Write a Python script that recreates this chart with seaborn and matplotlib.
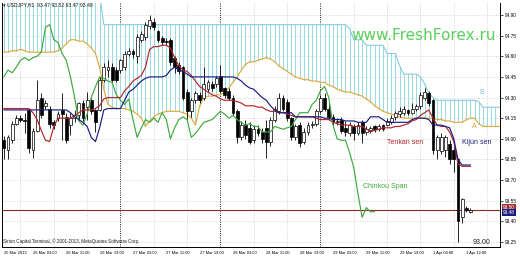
import matplotlib
matplotlib.use("Agg")
import numpy as np
import pandas as pd
import matplotlib.pyplot as plt
import seaborn as sns

# ---------------- data (USDJPY H1) ----------------
bar_open = [93.99, 93.92, 93.99, 94.11, 94.15, 94.14, 94.21, 93.92, 94.06, 94.30,
            94.24, 94.22, 94.12, 94.15, 94.21, 94.16, 94.10, 94.15, 94.17, 94.26,
            94.23, 94.28, 94.21, 94.21, 94.43, 94.50, 94.52, 94.50, 94.50, 94.52,
            94.62, 94.64, 94.60, 94.72, 94.74, 94.82, 94.85, 94.78, 94.73, 94.71,
            94.72, 94.59, 94.54, 94.52, 94.34, 94.20, 94.28, 94.32, 94.30, 94.36,
            94.40, 94.40, 94.46, 94.37, 94.35, 94.30, 94.20, 94.01, 94.10, 94.08,
            93.99, 94.07, 94.05, 94.08, 93.98, 94.14, 94.20, 94.30, 94.27, 94.15,
            94.01, 94.10, 93.98, 94.05, 94.10, 94.11, 94.20, 94.30, 94.22, 94.16,
            94.12, 94.14, 94.08, 94.04, 94.09, 94.04, 94.12, 94.05, 94.06, 94.09,
            94.07, 94.10, 94.10, 94.12, 94.16, 94.18, 94.19, 94.21, 94.19, 94.22,
            94.24, 94.30, 94.33, 94.28, 93.92, 93.91, 93.92, 93.96, 93.92, 93.85,
            93.43, 93.50, 93.47]
bar_high = [94.02, 94.03, 94.13, 94.17, 94.17, 94.19, 94.22, 94.08, 94.43, 94.33,
            94.28, 94.24, 94.14, 94.20, 94.33, 94.19, 94.19, 94.21, 94.27, 94.28,
            94.34, 94.30, 94.22, 94.45, 94.55, 94.57, 94.55, 94.52, 94.58, 94.64,
            94.66, 94.65, 94.76, 94.78, 94.85, 94.90, 94.88, 94.79, 94.75, 94.73,
            94.73, 94.60, 94.56, 94.53, 94.36, 94.30, 94.35, 94.34, 94.52, 94.43,
            94.42, 94.46, 94.54, 94.38, 94.37, 94.32, 94.22, 94.13, 94.14, 94.12,
            94.10, 94.10, 94.08, 94.14, 94.16, 94.24, 94.33, 94.32, 94.29, 94.16,
            94.11, 94.12, 94.08, 94.12, 94.13, 94.22, 94.32, 94.33, 94.26, 94.18,
            94.15, 94.16, 94.13, 94.12, 94.11, 94.12, 94.14, 94.09, 94.09, 94.10,
            94.11, 94.11, 94.15, 94.17, 94.20, 94.23, 94.24, 94.22, 94.26, 94.25,
            94.34, 94.37, 94.35, 94.29, 94.03, 94.04, 94.03, 93.99, 93.94, 93.86,
            93.57, 93.51, 93.50]
bar_low = [93.85, 93.85, 93.97, 94.10, 94.12, 94.04, 93.90, 93.86, 94.05, 94.15,
           94.22, 94.08, 94.07, 94.13, 93.99, 93.97, 94.03, 94.12, 94.14, 94.13,
           94.14, 94.18, 94.05, 94.20, 94.41, 94.45, 94.41, 94.41, 94.48, 94.50,
           94.60, 94.59, 94.55, 94.70, 94.72, 94.80, 94.79, 94.70, 94.68, 94.68,
           94.54, 94.48, 94.47, 94.28, 94.14, 94.16, 94.26, 94.26, 94.28, 94.34,
           94.35, 94.38, 94.33, 94.30, 94.28, 94.17, 93.97, 93.99, 94.00, 93.96,
           93.97, 94.02, 93.97, 93.86, 93.95, 94.12, 94.18, 94.20, 94.13, 93.99,
           93.99, 93.94, 93.96, 94.03, 94.08, 94.09, 94.19, 94.20, 94.14, 94.10,
           94.10, 94.04, 94.02, 94.02, 93.99, 94.03, 93.97, 94.03, 94.04, 94.05,
           94.06, 94.06, 94.09, 94.11, 94.14, 94.16, 94.17, 94.17, 94.18, 94.20,
           94.22, 94.28, 94.24, 93.89, 93.85, 93.89, 93.87, 93.82, 93.76, 93.25,
           93.39, 93.47, 93.46]
bar_close = [93.93, 94.01, 94.11, 94.15, 94.14, 94.13, 93.93, 94.06, 94.28, 94.17,
             94.26, 94.11, 94.10, 94.18, 94.18, 93.99, 94.15, 94.17, 94.26, 94.15,
             94.28, 94.20, 94.12, 94.43, 94.52, 94.52, 94.43, 94.43, 94.57, 94.62,
             94.64, 94.62, 94.74, 94.76, 94.83, 94.86, 94.81, 94.72, 94.70, 94.70,
             94.56, 94.52, 94.49, 94.30, 94.20, 94.28, 94.33, 94.28, 94.40, 94.41,
             94.37, 94.44, 94.35, 94.32, 94.30, 94.19, 94.01, 94.10, 94.03, 93.98,
             94.07, 94.04, 94.00, 93.98, 94.14, 94.22, 94.30, 94.22, 94.15, 94.01,
             94.09, 93.97, 94.05, 94.10, 94.11, 94.20, 94.30, 94.22, 94.16, 94.12,
             94.13, 94.06, 94.05, 94.10, 94.04, 94.10, 94.04, 94.07, 94.08, 94.07,
             94.09, 94.07, 94.13, 94.15, 94.19, 94.20, 94.22, 94.19, 94.22, 94.24,
             94.32, 94.34, 94.26, 93.92, 94.01, 94.01, 94.01, 93.85, 93.85, 93.40,
             93.56, 93.48, 93.48]

tenkan_sen = [94.22, 94.22, 94.22, 94.22, 94.22, 94.22, 94.22, 94.19, 94.14, 94.06,
              93.99, 93.98, 94.09, 94.15, 94.15, 94.15, 94.15, 94.17, 94.19, 94.21,
              94.21, 94.21, 94.22, 94.24, 94.29, 94.30, 94.30, 94.30, 94.30, 94.35,
              94.38, 94.42, 94.44, 94.46, 94.52, 94.65, 94.67, 94.67, 94.68, 94.68,
              94.66, 94.59, 94.53, 94.50, 94.49, 94.46, 94.42, 94.38, 94.36, 94.34,
              94.32, 94.31, 94.29, 94.28, 94.28, 94.28, 94.27, 94.26, 94.24, 94.24,
              94.24, 94.23, 94.23, 94.21, 94.20, 94.20, 94.19, 94.19, 94.18, 94.17,
              94.16, 94.16, 94.16, 94.16, 94.16, 94.15, 94.14, 94.14, 94.14, 94.12,
              94.11, 94.10, 94.10, 94.10, 94.09, 94.09, 94.09, 94.07, 94.06, 94.06,
              94.07, 94.08, 94.08, 94.08, 94.09, 94.09, 94.10, 94.11, 94.13, 94.14,
              94.17, 94.19, 94.21, 94.15, 94.10, 94.09, 94.09, 94.05, 93.98, 93.82,
              93.80, 93.80, 93.80]
kijun_sen = [94.21, 94.21, 94.21, 94.21, 94.21, 94.21, 94.21, 94.21, 94.21, 94.21,
             94.21, 94.21, 94.21, 94.21, 94.21, 94.21, 94.19, 94.16, 94.14, 94.12,
             94.09, 94.01, 93.98, 94.08, 94.21, 94.22, 94.22, 94.22, 94.22, 94.28,
             94.34, 94.36, 94.39, 94.42, 94.44, 94.45, 94.45, 94.45, 94.45, 94.46,
             94.50, 94.52, 94.50, 94.49, 94.47, 94.45, 94.45, 94.45, 94.45, 94.45,
             94.45, 94.45, 94.45, 94.45, 94.45, 94.45, 94.44, 94.42, 94.39, 94.37,
             94.36, 94.33, 94.30, 94.28, 94.24, 94.21, 94.19, 94.19, 94.19, 94.19,
             94.16, 94.16, 94.16, 94.16, 94.16, 94.16, 94.16, 94.15, 94.15, 94.14,
             94.14, 94.14, 94.13, 94.13, 94.13, 94.12, 94.12, 94.12, 94.16, 94.16,
             94.16, 94.14, 94.12, 94.12, 94.12, 94.12, 94.12, 94.12, 94.14, 94.15,
             94.15, 94.15, 94.14, 94.10, 94.10, 94.10, 94.09, 94.08, 94.00, 93.85,
             93.81, 93.81, 93.81]
senkou_a = [94.63, 94.63, 94.64, 94.64, 94.65, 94.64, 94.63, 94.63, 94.63, 94.63,
            94.63, 94.63, 94.63, 94.64, 94.66, 94.69, 94.72, 94.72, 94.71, 94.71,
            94.69, 94.66, 94.62, 94.52, 94.36, 94.25, 94.23, 94.22, 94.22, 94.22,
            94.21, 94.20, 94.18, 94.15, 94.09, 94.13, 94.16, 94.18, 94.19, 94.20,
            94.20, 94.20, 94.20, 94.19, 94.18, 94.15, 94.10, 94.24, 94.30, 94.31,
            94.31, 94.32, 94.32, 94.34, 94.37, 94.41, 94.45, 94.50, 94.54, 94.56,
            94.56, 94.57, 94.58, 94.59, 94.58, 94.56, 94.53, 94.51, 94.49, 94.47,
            94.45, 94.44, 94.43, 94.43, 94.42, 94.42, 94.41, 94.41, 94.39, 94.38,
            94.36, 94.35, 94.34, 94.34, 94.33, 94.32, 94.31, 94.29, 94.27, 94.24,
            94.22, 94.20, 94.19, 94.18, 94.17, 94.16, 94.15, 94.15, 94.15, 94.15,
            94.15, 94.15, 94.15, 94.15, 94.14, 94.14, 94.13, 94.13, 94.12, 94.12,
            94.12, 94.14, 94.15, 94.15, 94.11, 94.09, 94.09, 94.09, 94.09, 94.09]
senkou_b = [95.05] * 24 + [94.83] * 59 + [
            94.80, 94.72, 94.72, 94.72, 94.68, 94.68, 94.68, 94.68, 94.68, 94.62,
            94.62, 94.62, 94.53, 94.47, 94.47, 94.47, 94.47, 94.45, 94.40, 94.33,
            94.30, 94.28, 94.28, 94.28, 94.28, 94.28, 94.28, 94.28, 94.28, 94.28,
            94.28, 94.27, 94.23, 94.23, 94.23, 94.23, 94.23]
chikou_span = [94.45, 94.50, 94.48, 94.52, 94.57, 94.59, 94.57, 94.59, 94.60, 94.63,
               94.81, 94.83, 94.72, 94.70, 94.62, 94.57, 94.45, 94.30, 94.13, 94.10,
               94.18, 94.30, 94.38, 94.45, 94.44, 94.42, 94.41, 94.32, 94.28, 94.25,
               94.29, 94.14, 94.01, 94.08, 94.14, 94.12, 94.15, 94.12, 94.19, 94.14,
               94.00, 94.08, 94.14, 94.16, 94.14, 94.01, 94.04, 94.08, 94.12, 94.13,
               94.14, 94.17, 94.20, 94.18, 94.15, 94.17, 94.14, 94.12, 94.10, 94.11,
               94.09, 94.09, 94.05, 94.05, 94.05, 94.09, 94.08, 94.07, 94.08, 94.09,
               94.14, 94.19, 94.19, 94.19, 94.25, 94.28, 94.35, 94.38, 94.30, 94.10,
               94.00, 93.99, 93.99, 93.90, 93.79, 93.60, 93.43, 93.50, 93.47, 93.47]

bid_price = 93.48
price_ticks = [93.25, 93.40, 93.55, 93.70, 93.85, 94.00, 94.15, 94.30, 94.45, 94.60, 94.75, 94.90]
time_tick_bars = [0, 7, 15, 23, 31, 39, 47, 55, 63, 71, 79, 87, 95, 103, 111]
time_tick_labels = ["25 Mar 2013", "26 Mar 03:00", "26 Mar 11:00", "26 Mar 19:00",
                    "27 Mar 03:00", "27 Mar 11:00", "27 Mar 19:00", "28 Mar 03:00",
                    "28 Mar 11:00", "28 Mar 19:00", "29 Mar 03:00", "29 Mar 11:00",
                    "29 Mar 19:00", "1 Apr 04:00", "1 Apr 12:00"]
day_separator_bars = [28, 52, 76]

# ---------------- figure ----------------
sns.set_theme(style="white")
plt.rcParams['font.family'] = ['Liberation Sans', 'DejaVu Sans']

W, H = 520, 260
fig = plt.figure(figsize=(5.2, 2.6), dpi=100)
fig.patch.set_facecolor('white')
ax = fig.add_axes([2 / W, 13 / H, 498 / W, 244 / H])
ax.set_facecolor('white')

px_per_bar = 4.1667
x_left = (2 - 3.8) / px_per_bar
x_right = (500 - 3.8) / px_per_bar
ax.set_xlim(x_left, x_right)
ax.set_ylim(93.214, 94.987)

# grid
ax.hlines(price_ticks, x_left, x_right, colors='#c8c8c8', lw=0.5,
          linestyles=(0, (1.5, 2)), zorder=0)
grid_bars = np.arange(4, 120, 8)
for gb in grid_bars:
    if gb in day_separator_bars:
        ax.axvline(gb, color='black', lw=0.6, ls=(0, (1.2, 1.5)), zorder=0.5)
    else:
        ax.axvline(gb, color='#c8c8c8', lw=0.5, ls=(0, (1.5, 2)), zorder=0)

# cloud (kumo) hatch between senkou A and B
cloud_x = np.arange(len(senkou_a))
ax.vlines(cloud_x, np.minimum(senkou_a, senkou_b), np.maximum(senkou_a, senkou_b),
          colors='#9ad9e6', lw=0.72, zorder=1, antialiased=False)


def draw_line(values, color, lw=0.85, z=4):
    df = pd.DataFrame({'bar': np.arange(len(values)), 'price': values})
    sns.lineplot(data=df, x='bar', y='price', color=color, lw=lw, ax=ax,
                 legend=False, zorder=z, estimator=None)


draw_line(senkou_b, '#86cddd', lw=0.8, z=2)
draw_line(senkou_a, '#e2aa3a', lw=0.85, z=2)

# bid line
ax.axhline(bid_price, color='#8b2a2a', lw=0.8, zorder=2.5)

# candles
o = np.array(bar_open); h = np.array(bar_high); l = np.array(bar_low); c = np.array(bar_close)
xs = np.arange(len(o))
ax.vlines(xs, l, h, colors='black', lw=0.6, zorder=3)
up = c >= o
body_low = np.minimum(o, c)
body_h = np.maximum(np.abs(c - o), 0.004)
ax.bar(xs[up], body_h[up], bottom=body_low[up], width=0.7, color='white',
       edgecolor='black', linewidth=0.5, zorder=3.2)
ax.bar(xs[~up], body_h[~up], bottom=body_low[~up], width=0.7, color='black',
       edgecolor='black', linewidth=0.5, zorder=3.2)

draw_line(chikou_span, '#3daa3d', lw=0.85, z=4)
draw_line(tenkan_sen, '#b3262b', lw=0.85, z=4.2)
draw_line(kijun_sen, '#1c1c80', lw=0.85, z=4.3)

ax.set_xlabel('')
ax.set_ylabel('')

# axes / ticks
ax.yaxis.tick_right()
ax.set_yticks(price_ticks)
ax.set_yticklabels([f"{p:.2f}" for p in price_ticks])
ax.tick_params(axis='y', length=2, width=0.5, pad=1.5, labelsize=3.4, colors='black')
ax.set_xticks(time_tick_bars)
ax.set_xticklabels(time_tick_labels)
ax.tick_params(axis='x', length=2, width=0.5, pad=1.2, labelsize=2.9, colors='black')
for lab in ax.get_xticklabels():
    lab.set_ha('left')
for side in ['left', 'right', 'bottom']:
    ax.spines[side].set_visible(True)
    ax.spines[side].set_color('black')
    ax.spines[side].set_linewidth(0.7)
ax.spines['top'].set_visible(False)


def ftext(xp, yp, s, **kw):
    fig.text(xp / W, 1 - yp / H, s, **kw)


ftext(3, 5, "\u25be USDJPY,H1  93.47 93.52 93.47 93.48", fontsize=3.7,
      color='#222222', ha='left', va='center')
ftext(424, 35, "www.FreshForex.ru", fontsize=11, color='#5ccf5c',
      ha='center', va='center', family='DejaVu Sans')
ftext(462, 142, "Kijun sen", fontsize=5, color='#1c1c80', ha='left', va='center')
ftext(387, 142, "Tenkan sen", fontsize=5, color='#b3262b', ha='left', va='center')
ftext(363, 187, "Chinkou Span", fontsize=5, color='#3daa3d', ha='left', va='center')
ftext(479, 92, "B", fontsize=5, color='#7cc8d8', ha='left', va='center')
ftext(472, 126, "A", fontsize=5, color='#e09a30', ha='left', va='center')
ftext(473, 242, "93.00", fontsize=5, color='#222222', ha='left', va='center')
ftext(3, 241, "Sirion Capital Terminal, \u00a9 2001-2013, MetaQuotes Software Corp.",
      fontsize=3.3, color='#222222', ha='left', va='center')

# price labels on the axis
ftext(503, 207.6, "93.50", fontsize=3.4, color='white', ha='left', va='center',
      bbox=dict(boxstyle='square,pad=0.15', fc='#a03030', ec='none'))
ftext(503, 212.6, "93.48", fontsize=3.4, color='white', ha='left', va='center',
      bbox=dict(boxstyle='square,pad=0.15', fc='#1c1c80', ec='none'))

fig.savefig('out.png', dpi=100, facecolor='white')
